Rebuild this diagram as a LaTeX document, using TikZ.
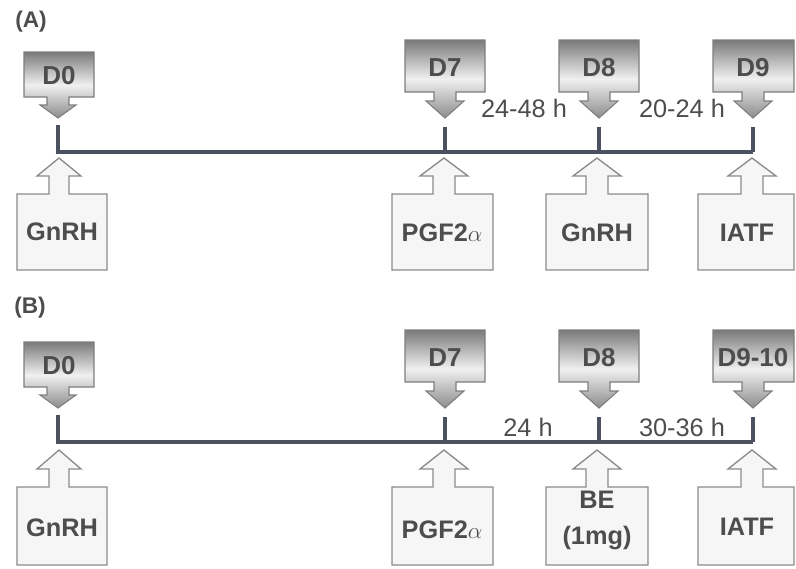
\documentclass[tikz,border=0pt]{standalone}
\usepackage{amsmath}
\usepackage{amssymb}
\usepackage{fontspec}
\setmainfont{Liberation Sans}
\usepackage{tikz}

\definecolor{tlcolor}{HTML}{4B515E}
\definecolor{txtcolor}{HTML}{4D4D4D}
\definecolor{rimcolor}{HTML}{7E7E7E}
\definecolor{paleback}{HTML}{F6F6F6}

\begin{document}
\begin{tikzpicture}[x=0.75pt,y=0.75pt,yscale=-1,xscale=1,
  tline/.style={draw=tlcolor,line width=3pt},
  daycall/.style={draw=rimcolor,line width=0.8pt,top color=black!52,bottom color=black!45,middle color=black!6},
  agentcall/.style={draw=rimcolor!90,line width=1pt,fill=paleback},
  daytxt/.style={inner sep=0.75pt,text=txtcolor,font=\fontsize{19.5}{22}\selectfont\bfseries},
  agenttxt/.style={inner sep=0.75pt,text=txtcolor,align=center,font=\fontsize{19}{27}\selectfont\bfseries},
  gaptxt/.style={inner sep=0.75pt,text=txtcolor,font=\fontsize{19}{21}\selectfont},
  paneltxt/.style={inner sep=0.75pt,text=txtcolor,font=\fontsize{17}{19}\selectfont\bfseries}]
\useasboundingbox (0,0) rectangle (796,568);

%%%%%%%%%%%%%%%% panel (A)
% timeline
\coordinate (a0t) at (58,125);
\coordinate (a0) at (58,152);
\coordinate (a7t) at (445,127);
\coordinate (a7) at (445,152);
\coordinate (a8t) at (599,127);
\coordinate (a8) at (599,152);
\coordinate (a9t) at (753,127);
\coordinate (a9) at (753,152);
\draw [tline] (a0t) -- (a0) -- (a9);
\draw [tline] (a7t) -- (a7);
\draw [tline] (a8t) -- (a8);
\draw [tline] (a9t) -- (a9);

%Down Arrow Callout
\draw [daycall] (24,52) -- (94,52) -- (94,97) -- (69,97) -- (69,105) -- (76,105) -- (58,118) -- (40,105) -- (47,105) -- (47,97) -- (24,97) -- cycle ;
%Down Arrow Callout
\draw [daycall] (405,40) -- (485,40) -- (485,92) -- (456,92) -- (456,101) -- (464,101) -- (445,118) -- (426,101) -- (434,101) -- (434,92) -- (405,92) -- cycle ;
%Down Arrow Callout
\draw [daycall] (559,40) -- (639,40) -- (639,92) -- (610,92) -- (610,101) -- (618,101) -- (599,118) -- (580,101) -- (588,101) -- (588,92) -- (559,92) -- cycle ;
%Down Arrow Callout
\draw [daycall] (713,40) -- (794,40) -- (794,92) -- (764,92) -- (764,101) -- (772,101) -- (753,118) -- (734,101) -- (742,101) -- (742,92) -- (713,92) -- cycle ;

%Up Arrow Callout
\draw [agentcall] (17,270) -- (17,194) -- (49,194) -- (49,176) -- (37,176) -- (59,158) -- (81,176) -- (69,176) -- (69,194) -- (107,194) -- (107,270) -- cycle ;
%Up Arrow Callout
\draw [agentcall] (392,270) -- (392,194) -- (433,194) -- (433,176) -- (420,176) -- (444,158) -- (468,176) -- (455,176) -- (455,194) -- (493,194) -- (493,270) -- cycle ;
%Up Arrow Callout
\draw [agentcall] (546,270) -- (546,194) -- (586,194) -- (586,176) -- (573,176) -- (597,158) -- (621,176) -- (608,176) -- (608,194) -- (648,194) -- (648,270) -- cycle ;
%Up Arrow Callout
\draw [agentcall] (698,270) -- (698,194) -- (741,194) -- (741,176) -- (728,176) -- (752,158) -- (776,176) -- (763,176) -- (763,194) -- (794,194) -- (794,270) -- cycle ;

% Text Node
\draw (31,22) node (panA) [paneltxt] {(A)};
% Text Node
\draw (59,76) node (dayA0) [daytxt] {D0};
% Text Node
\draw (445,68) node (dayA7) [daytxt] {D7};
% Text Node
\draw (599,68) node (dayA8) [daytxt] {D8};
% Text Node
\draw (753,68) node (dayA9) [daytxt] {D9};
% Text Node
\draw (524,108) node (gapA1) [gaptxt] {24-48 h};
% Text Node
\draw (682,108) node (gapA2) [gaptxt] {20-24 h};
% Text Node
\draw (62,232) node (agA0) [agenttxt] {GnRH};
% Text Node
\draw (442,233) node (agA7) [agenttxt] {PGF2$\alpha$};
% Text Node
\draw (597,233) node (agA8) [agenttxt] {GnRH};
% Text Node
\draw (747,233) node (agA9) [agenttxt] {IATF};

%%%%%%%%%%%%%%%% panel (B)
% timeline
\coordinate (b0t) at (58,415);
\coordinate (b0) at (58,442);
\coordinate (b7t) at (445,417);
\coordinate (b7) at (445,442);
\coordinate (b8t) at (599,417);
\coordinate (b8) at (599,442);
\coordinate (b9t) at (753,417);
\coordinate (b9) at (753,442);
\draw [tline] (b0t) -- (b0) -- (b9);
\draw [tline] (b7t) -- (b7);
\draw [tline] (b8t) -- (b8);
\draw [tline] (b9t) -- (b9);

%Down Arrow Callout
\draw [daycall] (24,342) -- (94,342) -- (94,387) -- (69,387) -- (69,395) -- (76,395) -- (58,408) -- (40,395) -- (47,395) -- (47,387) -- (24,387) -- cycle ;
%Down Arrow Callout
\draw [daycall] (405,330) -- (485,330) -- (485,382) -- (456,382) -- (456,391) -- (464,391) -- (445,408) -- (426,391) -- (434,391) -- (434,382) -- (405,382) -- cycle ;
%Down Arrow Callout
\draw [daycall] (559,330) -- (639,330) -- (639,382) -- (610,382) -- (610,391) -- (618,391) -- (599,408) -- (580,391) -- (588,391) -- (588,382) -- (559,382) -- cycle ;
%Down Arrow Callout
\draw [daycall] (713,330) -- (794,330) -- (794,382) -- (764,382) -- (764,391) -- (772,391) -- (753,408) -- (734,391) -- (742,391) -- (742,382) -- (713,382) -- cycle ;

%Up Arrow Callout
\draw [agentcall] (17,565) -- (17,487) -- (49,487) -- (49,469) -- (37,469) -- (59,450) -- (81,469) -- (69,469) -- (69,487) -- (107,487) -- (107,565) -- cycle ;
%Up Arrow Callout
\draw [agentcall] (392,565) -- (392,487) -- (433,487) -- (433,469) -- (420,469) -- (444,450) -- (468,469) -- (455,469) -- (455,487) -- (493,487) -- (493,565) -- cycle ;
%Up Arrow Callout
\draw [agentcall] (546,565) -- (546,487) -- (586,487) -- (586,469) -- (573,469) -- (597,450) -- (621,469) -- (608,469) -- (608,487) -- (648,487) -- (648,565) -- cycle ;
%Up Arrow Callout
\draw [agentcall] (698,565) -- (698,487) -- (741,487) -- (741,469) -- (728,469) -- (752,450) -- (776,469) -- (763,469) -- (763,487) -- (794,487) -- (794,565) -- cycle ;

% Text Node
\draw (30,308) node (panB) [paneltxt] {(B)};
% Text Node
\draw (59,366) node (dayB0) [daytxt] {D0};
% Text Node
\draw (445,358) node (dayB7) [daytxt] {D7};
% Text Node
\draw (599,358) node (dayB8) [daytxt] {D8};
% Text Node
\draw (753,358) node (dayB9) [daytxt] {D9-10};
% Text Node
\draw (528,427) node (gapB1) [gaptxt] {24 h};
% Text Node
\draw (682,427) node (gapB2) [gaptxt] {30-36 h};
% Text Node
\draw (62,528) node (agB0) [agenttxt] {GnRH};
% Text Node
\draw (442,530) node (agB7) [agenttxt] {PGF2$\alpha$};
% Text Node
\draw (597,520) node (agB8) [agenttxt] {BE\\(1mg)};
% Text Node
\draw (747,527) node (agB9) [agenttxt] {IATF};

\end{tikzpicture}
\end{document}
